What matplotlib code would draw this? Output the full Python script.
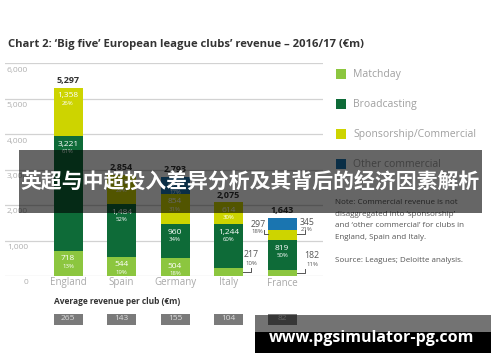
import matplotlib
matplotlib.use("Agg")
import matplotlib.pyplot as plt
from matplotlib.patches import Rectangle

# data (2016/17, EUR m)
countries = ["England", "Spain", "Germany", "Italy", "France"]
matchday = [718, 544, 504, 217, 182]
broadcasting = [3221, 1484, 960, 1244, 819]
sponsorship = [1358, 826, 854, 614, 297]
other_commercial = [0, 0, 475, 0, 345]
totals = [5297, 2854, 2793, 2075, 1643]
pct_matchday = [13, 19, 18, 10, 11]
pct_broadcasting = [61, 52, 34, 60, 50]
pct_sponsorship = [26, 29, 31, 30, 18]
pct_other = [0, 0, 17, 0, 21]
avg_per_club = [265, 143, 155, 104, 82]
legend_labels = ["Matchday", "Broadcasting", "Sponsorship/Commercial", "Other commercial"]
note_lines = ["Note: Commercial revenue is not",
              "disaggregated into \u2018sponsorship\u2019",
              "and \u2018other commercial\u2019 for clubs in",
              "England, Spain and Italy."]

c_match = "#8cc63f"
c_broad = "#0e6b38"
c_spons = "#cdd400"
c_other = "#1a75b0"
colors = [c_match, c_broad, c_spons, c_other]

plt.rcParams['font.family'] = ['Open Sans', 'DejaVu Sans']

W, H = 500, 362
fig = plt.figure(figsize=(W / 100, H / 100), dpi=100)

def fx(px):
    return px / W

def fy(py):
    return 1 - py / H

PT = 0.72  # px -> points at 100 dpi
STEP = 53.5  # px between bars
BW = 29 / STEP
YPX = 6000 / 213  # data units per px in y

ax = fig.add_axes([fx(5), fy(276), fx(318), 213 / H])
ax.set_xlim(-63 / STEP, 255 / STEP)
ax.set_ylim(0, 6000)
ax.axis("off")

for v in range(0, 7000, 1000):
    ax.axhline(v, color="#d2d2d2", lw=0.9, zorder=0)
    ax.annotate(f"{v:,}", (-40 / STEP, v), xytext=(0, -7 * PT), textcoords="offset points",
                ha="right", va="center", fontsize=6, color="#b0b0b0")

x = list(range(len(countries)))
series = [matchday, broadcasting, sponsorship, other_commercial]
pcts = [pct_matchday, pct_broadcasting, pct_sponsorship, pct_other]
bottoms = [0] * len(countries)

# labels set outside the bar: (label dx, value dy, pct dy, leader y below top, leader x) in px
outside = {(3, 0): (8.5, 13.5, 4.5, 4.0, 7.5),
           (4, 0): (15.5, 14.5, 5.5, 3.5, 8.0),
           (4, 2): (-9.7, 5.6, -1.8, 3.6, -4.0),
           (4, 3): (10.5, -4.6, -12.3, 16.3, 8.0)}

for s, vals in enumerate(series):
    ax.bar(x, vals, width=BW, bottom=bottoms, color=colors[s], zorder=2)
    for i, v in enumerate(vals):
        if v == 0:
            continue
        top = bottoms[i] + v
        if (i, s) in outside:
            dx, vy, py, ly, lx = outside[(i, s)]
            side = 1 if dx > 0 else -1
            edge = i + side * BW / 2
            ax.annotate(f"{v:,}", (edge, top), xytext=(dx * PT, vy * PT), textcoords="offset points",
                        ha="center", va="center", fontsize=6.3, color="#555555")
            ax.annotate(f"{pcts[s][i]}%", (edge, top), xytext=(dx * PT, py * PT), textcoords="offset points",
                        ha="center", va="center", fontsize=4.3, color="#555555")
            yl = top - ly * YPX
            xv = edge + lx / STEP
            ax.plot([edge, xv, xv], [yl, yl, yl + 4 * YPX], color="#555555", lw=0.7, zorder=3)
        else:
            ax.annotate(f"{v:,}", (i, top), xytext=(0, -8 * PT), textcoords="offset points",
                        ha="center", va="center", fontsize=6, color="white", zorder=4)
            ax.annotate(f"{pcts[s][i]}%", (i, top), xytext=(0, -15.5 * PT), textcoords="offset points",
                        ha="center", va="center", fontsize=4.3, color="white", zorder=4)
    bottoms = [b + v for b, v in zip(bottoms, vals)]

for i, t in enumerate(totals):
    ax.annotate(f"{t:,}", (i, t), xytext=(0, 7 * PT), textcoords="offset points",
                ha="center", va="center", fontsize=6.5, fontweight="bold", color="#333333")
    ax.annotate(countries[i], (i, 0), xytext=(0, -7 * PT), textcoords="offset points",
                ha="center", va="center", fontsize=7, color="#a8a8a8")

# average revenue per club boxes
ax2 = fig.add_axes([fx(5), fy(324.5), fx(318), 11 / H])
ax2.set_xlim(-63 / STEP, 255 / STEP)
ax2.set_ylim(0, 1)
ax2.axis("off")
ax2.bar(x, [1] * len(x), width=BW, bottom=0, color="#7a7a7a")
for i, a in enumerate(avg_per_club):
    ax2.text(i, 0.5, str(a), ha="center", va="center", fontsize=6, color="#dcdcdc")
fig.text(fx(54), fy(301.7), "Average revenue per club (\u20acm)", ha="left", va="center",
         fontsize=6, fontweight="bold", color="#333333")

# title
fig.text(fx(8), fy(44), "Chart 2: \u2018Big five\u2019 European league clubs\u2019 revenue \u2013 2016/17 (\u20acm)",
         ha="left", va="center", fontsize=8.1, fontweight="bold", color="#333333")

# legend
for k, lab in enumerate(legend_labels):
    yc = 74.3 + 30 * k
    fig.add_artist(Rectangle((fx(336), fy(yc + 5)), 10 / W, 10 / H, transform=fig.transFigure,
                             color=colors[k], lw=0))
    fig.text(fx(353), fy(yc), lab, ha="left", va="center", fontsize=7.5, color="#a0a0a0")

for k, line in enumerate(note_lines):
    fig.text(fx(335), fy(202.7 + 11.6 * k), line, ha="left", va="center", fontsize=5.8, color="#555555")
fig.text(fx(335), fy(261), "Source: Leagues; Deloitte analysis.", ha="left", va="center",
         fontsize=5.8, color="#555555")

# overlay banner
fig.add_artist(Rectangle((fx(19), fy(213)), 463 / W, 63 / H, transform=fig.transFigure,
                         color="black", alpha=0.6, lw=0, zorder=5))
fig.text(fx(250.5), fy(181), "英超与中超投入差异分析及其背后的经济因素解析", ha="center", va="center",
         fontsize=15, fontweight="bold", color="white", family=["Noto Sans CJK SC", "DejaVu Sans"], zorder=6)

# watermark
fig.add_artist(Rectangle((fx(255), fy(332)), 236 / W, 17 / H, transform=fig.transFigure,
                         color="black", alpha=0.55, lw=0, zorder=5))
fig.add_artist(Rectangle((fx(255), fy(353)), 236 / W, 21 / H, transform=fig.transFigure,
                         color="black", lw=0, zorder=5))
fig.text(fx(372), fy(338.5), "www.pgsimulator-pg.com", ha="center", va="center",
         fontsize=11.5, fontweight="bold", color="white", zorder=6)

fig.savefig("out.png", dpi=100)
